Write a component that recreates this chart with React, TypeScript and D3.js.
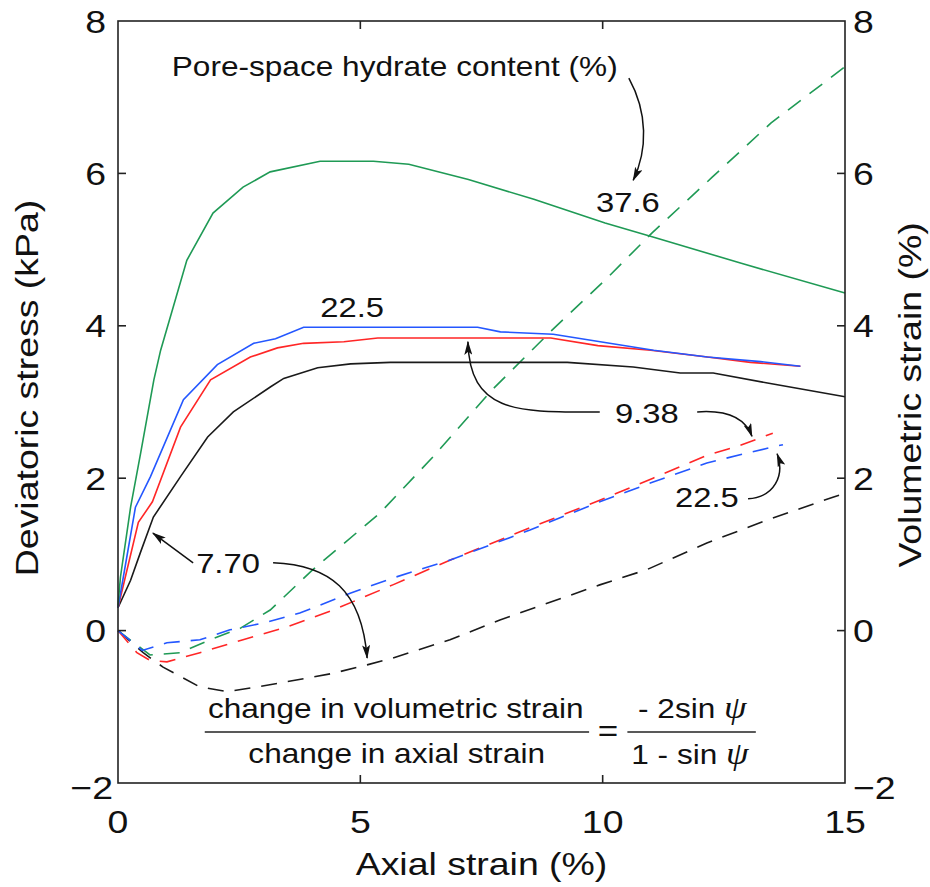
import React from 'react';
import * as d3 from 'd3';

const W = 930;
const H = 887;
const M = { left: 118, right: 845, top: 21, bottom: 783 };
const FONT = "'Liberation Sans', Arial, Helvetica, sans-serif";
const SX = 1.17;

const xTicks = [0, 5, 10, 15];
const yTicks = [-2, 0, 2, 4, 6, 8];
const innerTicksX = [5, 10];
const innerTicksY = [0, 2, 4, 6];

// Deviatoric stress (solid lines), hydrate content 37.6 %
const axial376 = [0, 0.05, 0.26, 0.47, 0.74, 0.88, 1.42, 1.96, 2.58, 3.14, 4.17, 5.27, 6.0, 7.23, 8.58, 10.05, 11.02, 12.86, 15];
const stress376 = [0.33, 0.7, 1.62, 2.34, 3.29, 3.68, 4.86, 5.48, 5.82, 6.02, 6.16, 6.16, 6.12, 5.92, 5.66, 5.35, 5.17, 4.82, 4.43];
// 22.5 %
const axial225 = [0, 0.36, 0.67, 1.35, 2.05, 2.8, 3.25, 3.83, 7.42, 7.89, 8.98, 9.95, 11.05, 12.16, 13.26, 14.08];
const stress225 = [0.3, 1.62, 2.02, 3.03, 3.49, 3.77, 3.83, 3.98, 3.98, 3.92, 3.89, 3.79, 3.68, 3.59, 3.53, 3.47];
// 9.38 %
const axial938 = [0, 0.42, 0.71, 1.29, 1.91, 2.73, 3.29, 3.83, 4.66, 5.36, 8.93, 9.9, 10.99, 12.16, 13.05, 14.08];
const stress938 = [0.3, 1.42, 1.69, 2.67, 3.29, 3.59, 3.71, 3.77, 3.79, 3.84, 3.84, 3.74, 3.68, 3.59, 3.52, 3.47];
// 7.70 %
const axial770 = [0, 0.26, 0.46, 0.73, 1.29, 1.85, 2.38, 3.15, 3.42, 4.12, 4.8, 5.62, 9.27, 10.63, 11.6, 12.28, 13.4, 15];
const stress770 = [0.3, 0.66, 1.02, 1.49, 2.02, 2.54, 2.87, 3.2, 3.31, 3.45, 3.5, 3.52, 3.52, 3.46, 3.38, 3.38, 3.25, 3.07];

// Volumetric strain (dashed lines)
const axialV376 = [0, 0.66, 1.28, 1.9, 2.52, 3.14, 4.02, 5.4, 6.5, 7.72, 8.95, 10.05, 11.02, 12.26, 13.47, 15];
const vol376 = [0, -0.32, -0.29, -0.12, 0.03, 0.27, 0.8, 1.54, 2.28, 3.16, 3.94, 4.6, 5.22, 5.95, 6.66, 7.4];
const axialV225 = [0, 0.5, 1.01, 1.69, 2.31, 3.07, 3.75, 4.79, 5.67, 6.87, 8.5, 9.94, 11.04, 12.15, 12.98, 13.72];
const vol225 = [0, -0.26, -0.16, -0.12, 0.01, 0.11, 0.23, 0.49, 0.69, 0.93, 1.32, 1.69, 1.95, 2.2, 2.33, 2.44];
const axialV938 = [0, 0.39, 0.66, 1.01, 1.69, 2.58, 3.49, 4.44, 5.67, 6.87, 8.5, 9.94, 11.04, 12.15, 12.83, 13.51];
const vol938 = [0, -0.29, -0.39, -0.41, -0.29, -0.12, 0.05, 0.27, 0.6, 0.93, 1.35, 1.71, 2.0, 2.3, 2.43, 2.59];
const axialV770 = [0, 0.52, 0.93, 1.69, 2.25, 2.87, 3.49, 4.44, 5.14, 5.67, 6.85, 7.88, 9.94, 10.91, 12.15, 13.39, 14.75, 15];
const vol770 = [0, -0.29, -0.48, -0.74, -0.8, -0.74, -0.67, -0.56, -0.45, -0.36, -0.12, 0.14, 0.6, 0.8, 1.15, 1.45, 1.75, 1.8];

const GREEN = '#1f9a55';
const BLUE = '#2457ff';
const RED = '#ff2626';
const BLACK = '#1a1a1a';

function T({ x, y, size, anchor = 'middle', rot = 0, children }: any) {
  return (
    <text
      transform={`translate(${x},${y}) rotate(${rot}) scale(${SX},1)`}
      fontSize={size}
      textAnchor={anchor}
      fontFamily={FONT}
      fill="#111"
    >
      {children}
    </text>
  );
}

export default function App() {
  const x = d3.scaleLinear().domain([0, 15]).range([M.left, M.right]);
  const yL = d3.scaleLinear().domain([-2, 8]).range([M.bottom, M.top]);
  const yR = d3.scaleLinear().domain([-2, 8]).range([M.bottom, M.top]);

  const path = (xs: number[], ys: number[], y: any) =>
    d3
      .line<number>()
      .x((_, i) => x(xs[i]))
      .y((_, i) => y(ys[i]))(xs) || '';

  const solid = [
    { xs: axial770, ys: stress770, c: BLACK },
    { xs: axial938, ys: stress938, c: RED },
    { xs: axial225, ys: stress225, c: BLUE },
    { xs: axial376, ys: stress376, c: GREEN },
  ];
  const dashed = [
    { xs: axialV770, ys: vol770, c: BLACK },
    { xs: axialV376, ys: vol376, c: GREEN },
    { xs: axialV938, ys: vol938, c: RED },
    { xs: axialV225, ys: vol225, c: BLUE },
  ];

  const P = (ax: number, ay: number) => `${x(ax)},${yL(ay)}`;
  const arrows = [
    `M${P(10.54, 7.25)} C${P(10.93, 6.8)} ${P(10.93, 6.31)} ${P(10.63, 5.91)}`,
    `M${P(9.94, 2.87)} C${P(8.29, 2.87)} ${P(7.26, 2.83)} ${P(7.22, 3.79)}`,
    `M${P(11.95, 2.87)} C${P(12.59, 2.9)} ${P(12.94, 2.79)} ${P(13.08, 2.55)}`,
    `M${P(13.0, 1.73)} C${P(13.55, 1.75)} ${P(13.76, 2.04)} ${P(13.6, 2.32)}`,
    `M${P(1.55, 0.89)} L${P(0.72, 1.28)}`,
    `M${P(3.2, 0.89)} C${P(4.37, 0.86)} ${P(5.03, 0.53)} ${P(5.14, -0.36)}`,
  ];

  const fs = 27;
  const psi = (
    <tspan fontFamily="'Liberation Serif', 'Times New Roman', serif" fontStyle="italic" fontSize={31}>
      ψ
    </tspan>
  );

  return (
    <svg width={W} height={H} style={{ position: 'absolute', left: 0, top: 0, background: '#fff' }}>
      <defs>
        <marker
          id="ah"
          viewBox="0 0 14 8"
          refX={13}
          refY={4}
          markerWidth={14}
          markerHeight={8}
          markerUnits="userSpaceOnUse"
          orient="auto"
        >
          <path d="M0,0 L14,4 L0,8 L3,4 z" fill="#111" />
        </marker>
      </defs>
      <rect x={0} y={0} width={W} height={H} fill="#fff" />

      {/* data lines */}
      {dashed.map((d, i) => (
        <path key={'d' + i} d={path(d.xs, d.ys, yR)} fill="none" stroke={d.c} strokeWidth={1.6} strokeDasharray="16 11" />
      ))}
      {solid.map((d, i) => (
        <path key={'s' + i} d={path(d.xs, d.ys, yL)} fill="none" stroke={d.c} strokeWidth={1.6} />
      ))}

      {/* frame */}
      <rect
        x={M.left}
        y={M.top}
        width={M.right - M.left}
        height={M.bottom - M.top}
        fill="none"
        stroke="#222"
        strokeWidth={1.6}
      />
      {innerTicksX.map((v) => (
        <g key={'tx' + v}>
          <line x1={x(v)} x2={x(v)} y1={M.top} y2={M.top + 8} stroke="#222" strokeWidth={1.6} />
          <line x1={x(v)} x2={x(v)} y1={M.bottom} y2={M.bottom - 8} stroke="#222" strokeWidth={1.6} />
        </g>
      ))}
      {innerTicksY.map((v) => (
        <g key={'ty' + v}>
          <line x1={M.left} x2={M.left + 8} y1={yL(v)} y2={yL(v)} stroke="#222" strokeWidth={1.6} />
          <line x1={M.right} x2={M.right - 8} y1={yR(v)} y2={yR(v)} stroke="#222" strokeWidth={1.6} />
        </g>
      ))}

      {/* tick labels */}
      {xTicks.map((v) => (
        <T key={'xl' + v} x={x(v)} y={833} size={32}>
          {String(v)}
        </T>
      ))}
      {yTicks.map((v) => (
        <T key={'yl' + v} x={v < 0 ? 113 : 106} y={yL(v) + 11.5 + (v < 0 ? 4 : 0)} size={32} anchor="end">
          {v < 0 ? '\u2212' + Math.abs(v) : String(v)}
        </T>
      ))}
      {yTicks.map((v) => (
        <T key={'yr' + v} x={853} y={yR(v) + 11.5 + (v < 0 ? 4 : 0)} size={32} anchor="start">
          {v < 0 ? '\u2212' + Math.abs(v) : String(v)}
        </T>
      ))}

      {/* axis titles */}
      <T x={(M.left + M.right) / 2} y={875} size={32}>
        Axial strain (%)
      </T>
      <T x={38} y={388} size={32} rot={-90}>
        Deviatoric stress (kPa)
      </T>
      <T x={921} y={395} size={32} rot={-90}>
        Volumetric strain (%)
      </T>

      {/* annotations */}
      {arrows.map((d, i) => (
        <path key={'a' + i} d={d} fill="none" stroke="#111" strokeWidth={1.5} markerEnd="url(#ah)" />
      ))}
      <T x={x(1.11)} y={yL(7.28)} size={27} anchor="start">
        Pore-space hydrate content (%)
      </T>
      <T x={x(10.52)} y={yL(5.49)} size={28}>
        37.6
      </T>
      <T x={x(4.83)} y={yL(4.12)} size={28}>
        22.5
      </T>
      <T x={x(10.91)} y={yL(2.72)} size={28}>
        9.38
      </T>
      <T x={x(12.15)} y={yL(1.62)} size={28}>
        22.5
      </T>
      <T x={x(2.27)} y={yL(0.76)} size={28}>
        7.70
      </T>

      {/* formula */}
      <T x={x(5.73)} y={yL(-1.15)} size={fs}>
        change in volumetric strain
      </T>
      <line x1={x(1.79)} x2={x(9.72)} y1={yL(-1.33)} y2={yL(-1.33)} stroke="#222" strokeWidth={1.6} />
      <T x={x(5.75)} y={yL(-1.74)} size={fs}>
        change in axial strain
      </T>
      <T x={x(10.11)} y={yL(-1.33) + 9} size={30}>
        =
      </T>
      <T x={x(11.85)} y={yL(-1.15)} size={fs}>
        - 2sin {psi}
      </T>
      <line x1={x(10.51)} x2={x(13.16)} y1={yL(-1.33)} y2={yL(-1.33)} stroke="#222" strokeWidth={1.6} />
      <T x={x(11.8)} y={yL(-1.75)} size={fs}>
        1 - sin {psi}
      </T>
    </svg>
  );
}
